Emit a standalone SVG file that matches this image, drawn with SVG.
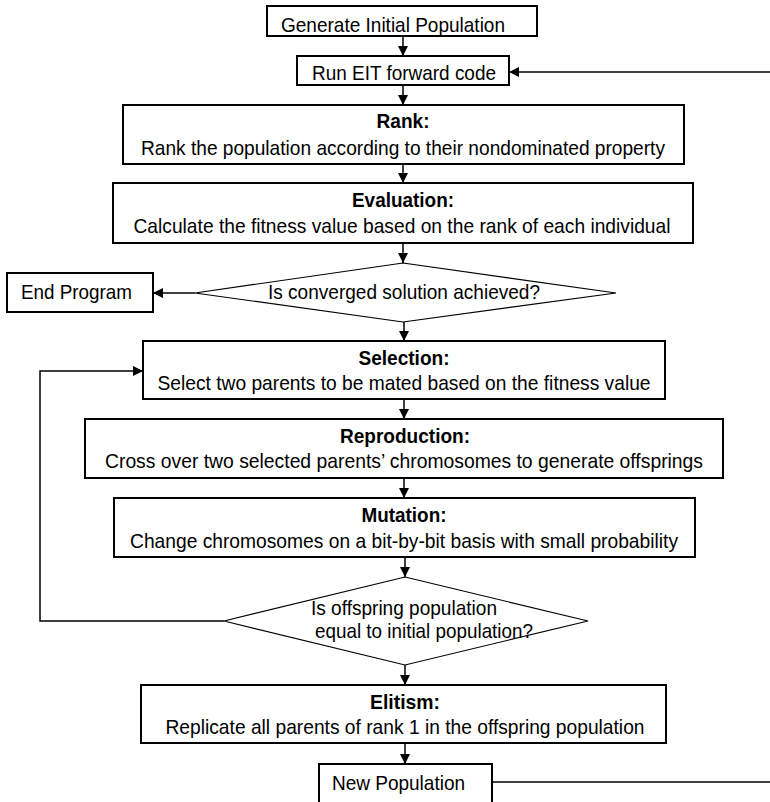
<svg xmlns="http://www.w3.org/2000/svg" width="770" height="802" viewBox="0 0 770 802">
<defs>
<marker id="ah" markerUnits="userSpaceOnUse" markerWidth="12" markerHeight="12" refX="10" refY="5" orient="auto">
<path d="M0,0 L10,5 L0,10 Z" fill="#000"/>
</marker>
<style>
.box{fill:#fff;stroke:#000;stroke-width:2}
.dia{fill:#fff;stroke:#000;stroke-width:1.2}
.con{fill:none;stroke:#000;stroke-width:1.5}
text{font-family:"Liberation Sans",Arial,sans-serif;font-size:21px;fill:#000}
.t{text-anchor:middle}
.b{font-weight:bold;text-anchor:middle}
</style>
</defs>
<rect width="770" height="802" fill="#fff"/>
<g id="connectors">
<line class="con" x1="403" y1="36" x2="403" y2="56" marker-end="url(#ah)"/>
<line class="con" x1="770" y1="72" x2="509" y2="72" marker-end="url(#ah)"/>
<line class="con" x1="403" y1="85" x2="403" y2="105" marker-end="url(#ah)"/>
<line class="con" x1="403" y1="164" x2="403" y2="183" marker-end="url(#ah)"/>
<line class="con" x1="403" y1="243" x2="403" y2="263" marker-end="url(#ah)"/>
<line class="con" x1="195" y1="293" x2="153" y2="293" marker-end="url(#ah)"/>
<line class="con" x1="404" y1="322" x2="404" y2="341" marker-end="url(#ah)"/>
<line class="con" x1="404" y1="399" x2="404" y2="419" marker-end="url(#ah)"/>
<line class="con" x1="404" y1="478" x2="404" y2="498" marker-end="url(#ah)"/>
<line class="con" x1="405" y1="557" x2="405" y2="577" marker-end="url(#ah)"/>
<line class="con" x1="405" y1="665" x2="405" y2="685" marker-end="url(#ah)"/>
<line class="con" x1="405" y1="743" x2="405" y2="764" marker-end="url(#ah)"/>
<polyline class="con" points="224,621 40,621 40,371 143,371" marker-end="url(#ah)"/>
<line class="con" x1="492" y1="782" x2="770" y2="782"/>
</g>
<g id="generate">
<rect class="box" x="267" y="6" width="270" height="30"/>
<text x="281" y="32" textLength="224" lengthAdjust="spacingAndGlyphs">Generate Initial Population</text>
</g>
<g id="run-eit">
<rect class="box" x="297" y="56" width="212" height="29"/>
<text x="312" y="80" textLength="184" lengthAdjust="spacingAndGlyphs">Run EIT forward code</text>
</g>
<g id="rank">
<rect class="box" x="123" y="105" width="561" height="59"/>
<text class="b" x="403" y="128" textLength="53" lengthAdjust="spacingAndGlyphs">Rank:</text>
<text class="t" x="403" y="155" textLength="524" lengthAdjust="spacingAndGlyphs">Rank the population according to their nondominated property</text>
</g>
<g id="evaluation">
<rect class="box" x="113" y="183" width="580" height="60"/>
<text class="b" x="403" y="207" textLength="102" lengthAdjust="spacingAndGlyphs">Evaluation:</text>
<text class="t" x="402" y="233" textLength="537" lengthAdjust="spacingAndGlyphs">Calculate the fitness value based on the rank of each individual</text>
</g>
<g id="converged">
<polygon class="dia" points="403,263 616,293 403,322 195,293"/>
<text class="t" x="404" y="299" textLength="272" lengthAdjust="spacingAndGlyphs">Is converged solution achieved?</text>
</g>
<g id="end-program">
<rect class="box" x="7" y="273" width="146" height="39"/>
<text x="21" y="299" textLength="111" lengthAdjust="spacingAndGlyphs">End Program</text>
</g>
<g id="selection">
<rect class="box" x="143" y="341" width="522" height="58"/>
<text class="b" x="404" y="365" textLength="91" lengthAdjust="spacingAndGlyphs">Selection:</text>
<text class="t" x="404" y="390" textLength="493" lengthAdjust="spacingAndGlyphs">Select two parents to be mated based on the fitness value</text>
</g>
<g id="reproduction">
<rect class="box" x="85" y="419" width="638" height="59"/>
<text class="b" x="405" y="443" textLength="130" lengthAdjust="spacingAndGlyphs">Reproduction:</text>
<text class="t" x="404" y="468" textLength="598" lengthAdjust="spacingAndGlyphs">Cross over two selected parents’ chromosomes to generate offsprings</text>
</g>
<g id="mutation">
<rect class="box" x="114" y="498" width="581" height="59"/>
<text class="b" x="404" y="522" textLength="85" lengthAdjust="spacingAndGlyphs">Mutation:</text>
<text class="t" x="404" y="548" textLength="548" lengthAdjust="spacingAndGlyphs">Change chromosomes on a bit-by-bit basis with small probability</text>
</g>
<g id="offspring-check">
<polygon class="dia" points="405,577 588,621 405,665 224,621"/>
<text x="311" y="615" textLength="186" lengthAdjust="spacingAndGlyphs">Is offspring population</text>
<text x="315" y="638" textLength="218" lengthAdjust="spacingAndGlyphs">equal to initial population?</text>
</g>
<g id="elitism">
<rect class="box" x="141" y="685" width="525" height="58"/>
<text class="b" x="405" y="709" textLength="70" lengthAdjust="spacingAndGlyphs">Elitism:</text>
<text class="t" x="405" y="734" textLength="479" lengthAdjust="spacingAndGlyphs">Replicate all parents of rank 1 in the offspring population</text>
</g>
<g id="new-population">
<rect class="box" x="319" y="764" width="173" height="50"/>
<text x="332" y="790" textLength="133" lengthAdjust="spacingAndGlyphs">New Population</text>
</g>
</svg>
